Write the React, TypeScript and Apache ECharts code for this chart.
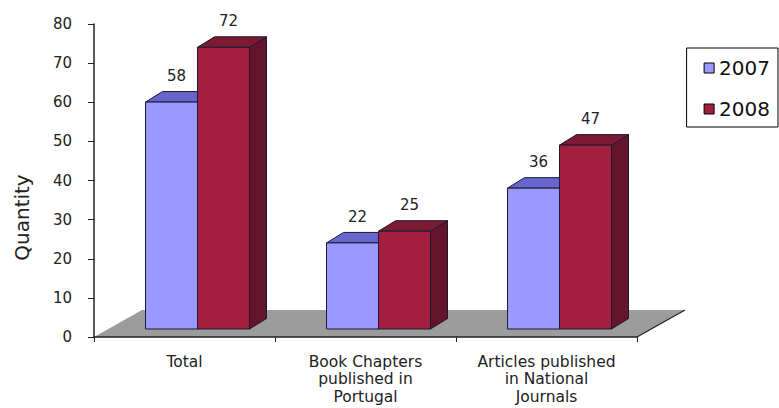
import React, { useEffect, useRef } from "react";
import * as echarts from "echarts";

const categories = [
  "Total",
  "Book Chapters\npublished in\nPortugal",
  "Articles published\nin National\nJournals",
];
const seriesNames = ["2007", "2008"];
const values2007 = [58, 22, 36];
const values2008 = [72, 25, 47];

const FONT = '"DejaVu Sans", sans-serif';

function makeBarRenderer(idx: number, front: string, top: string, side: string) {
  return (params: any, api: any) => {
    const cat = api.value(0);
    const v = api.value(1);
    const p0 = api.coord([cat, 0]);
    const p1 = api.coord([cat, v]);
    const band = api.size([1, 0])[0];
    const barW = (band * 52) / 181;
    const fx = 13, fy = -8;
    const dx = 17, dy = -10.5;
    const x0 = p0[0] - barW + idx * barW + fx;
    const x1 = x0 + barW;
    const yb = p0[1] + fy;
    const yt = p1[1] + fy;
    const stroke = "#1a1a33";
    return {
      type: "group",
      children: [
        {
          type: "polygon",
          shape: { points: [[x1, yt], [x1 + dx, yt + dy], [x1 + dx, yb + dy], [x1, yb]] },
          style: { fill: side, stroke, lineWidth: 1 },
        },
        {
          type: "polygon",
          shape: { points: [[x0, yt], [x0 + dx, yt + dy], [x1 + dx, yt + dy], [x1, yt]] },
          style: { fill: top, stroke, lineWidth: 1 },
        },
        {
          type: "rect",
          shape: { x: x0, y: yt, width: barW, height: yb - yt },
          style: { fill: front, stroke, lineWidth: 1 },
        },
        {
          type: "text",
          x: x0 + barW / 2 + 5,
          y: yt - 26,
          style: {
            text: String(v),
            fill: "#222",
            fontSize: 15,
            fontFamily: FONT,
            align: "center",
            verticalAlign: "middle",
          },
        },
      ],
    };
  };
}

const floorRenderer = (params: any) => {
  const cs = params.coordSys;
  const x = cs.x;
  const y = cs.y + cs.height;
  const w = cs.width;
  const ddx = 48, ddy = -27;
  return {
    type: "group",
    children: [
      {
        type: "polygon",
        shape: { points: [[x, y], [x + w, y], [x + w + ddx, y + ddy], [x + ddx, y + ddy]] },
        style: { fill: "#9c9c9c" },
      },
      {
        type: "line",
        shape: { x1: x + w, y1: y, x2: x + w + ddx, y2: y + ddy },
        style: { stroke: "#222", lineWidth: 1.2 },
      },
    ],
  };
};

export default function App() {
  const ref = useRef<HTMLDivElement>(null);
  useEffect(() => {
    if (!ref.current) return;
    const chart = echarts.init(ref.current, undefined, { renderer: "svg" });
    chart.setOption({
      animation: false,
      backgroundColor: "#ffffff",
      grid: { left: 94, right: 142, top: 24, bottom: 71 },
      legend: {
        orient: "vertical",
        right: 1,
        top: 48,
        data: seriesNames,
        icon: "rect",
        itemWidth: 10,
        itemHeight: 10,
        itemGap: 21,
        padding: [10, 8, 8, 17],
        borderColor: "#000",
        borderWidth: 1,
        selectedMode: false,
        itemStyle: { borderColor: "#000", borderWidth: 1 },
        textStyle: { fontSize: 20, fontFamily: FONT, color: "#111", lineHeight: 20 },
      },
      xAxis: {
        type: "category",
        data: categories,
        z: 5,
        axisLine: { lineStyle: { color: "#222", width: 1.5 } },
        axisTick: { show: true, length: 5, lineStyle: { color: "#222" } },
        axisLabel: {
          fontSize: 15.5,
          fontFamily: FONT,
          color: "#222",
          lineHeight: 17.5,
          margin: 16,
          interval: 0,
        },
      },
      yAxis: {
        type: "value",
        min: 0,
        max: 80,
        interval: 10,
        z: 5,
        name: "Quantity",
        nameLocation: "middle",
        nameGap: 62,
        nameTextStyle: { fontSize: 20, fontFamily: FONT, color: "#222", padding: [0, 74, 0, 0] },
        splitLine: { show: false },
        axisLine: { show: true, lineStyle: { color: "#222", width: 1.5 } },
        axisTick: { show: true, length: 6, lineStyle: { color: "#222" } },
        axisLabel: { fontSize: 15, fontFamily: FONT, color: "#222", margin: 22 },
      },
      series: [
        {
          name: "floor",
          type: "custom",
          silent: true,
          clip: false,
          renderItem: floorRenderer,
          data: [[0, 0]],
          encode: { x: 0, y: 1 },
        },
        {
          name: seriesNames[0],
          type: "custom",
          clip: false,
          renderItem: makeBarRenderer(0, "#9999ff", "#6666cc", "#4d4da0"),
          itemStyle: { color: "#9999ff", borderColor: "#000", borderWidth: 1 },
          data: values2007.map((v, i) => [i, v]),
          encode: { x: 0, y: 1 },
        },
        {
          name: seriesNames[1],
          type: "custom",
          clip: false,
          renderItem: makeBarRenderer(1, "#a21f40", "#7d1a33", "#64142b"),
          itemStyle: { color: "#a21f40", borderColor: "#000", borderWidth: 1 },
          data: values2008.map((v, i) => [i, v]),
          encode: { x: 0, y: 1 },
        },
      ],
    });
    return () => chart.dispose();
  }, []);
  return (
    <div
      ref={ref}
      style={{ position: "fixed", left: 0, top: 0, width: 779, height: 408, background: "#fff" }}
    />
  );
}
